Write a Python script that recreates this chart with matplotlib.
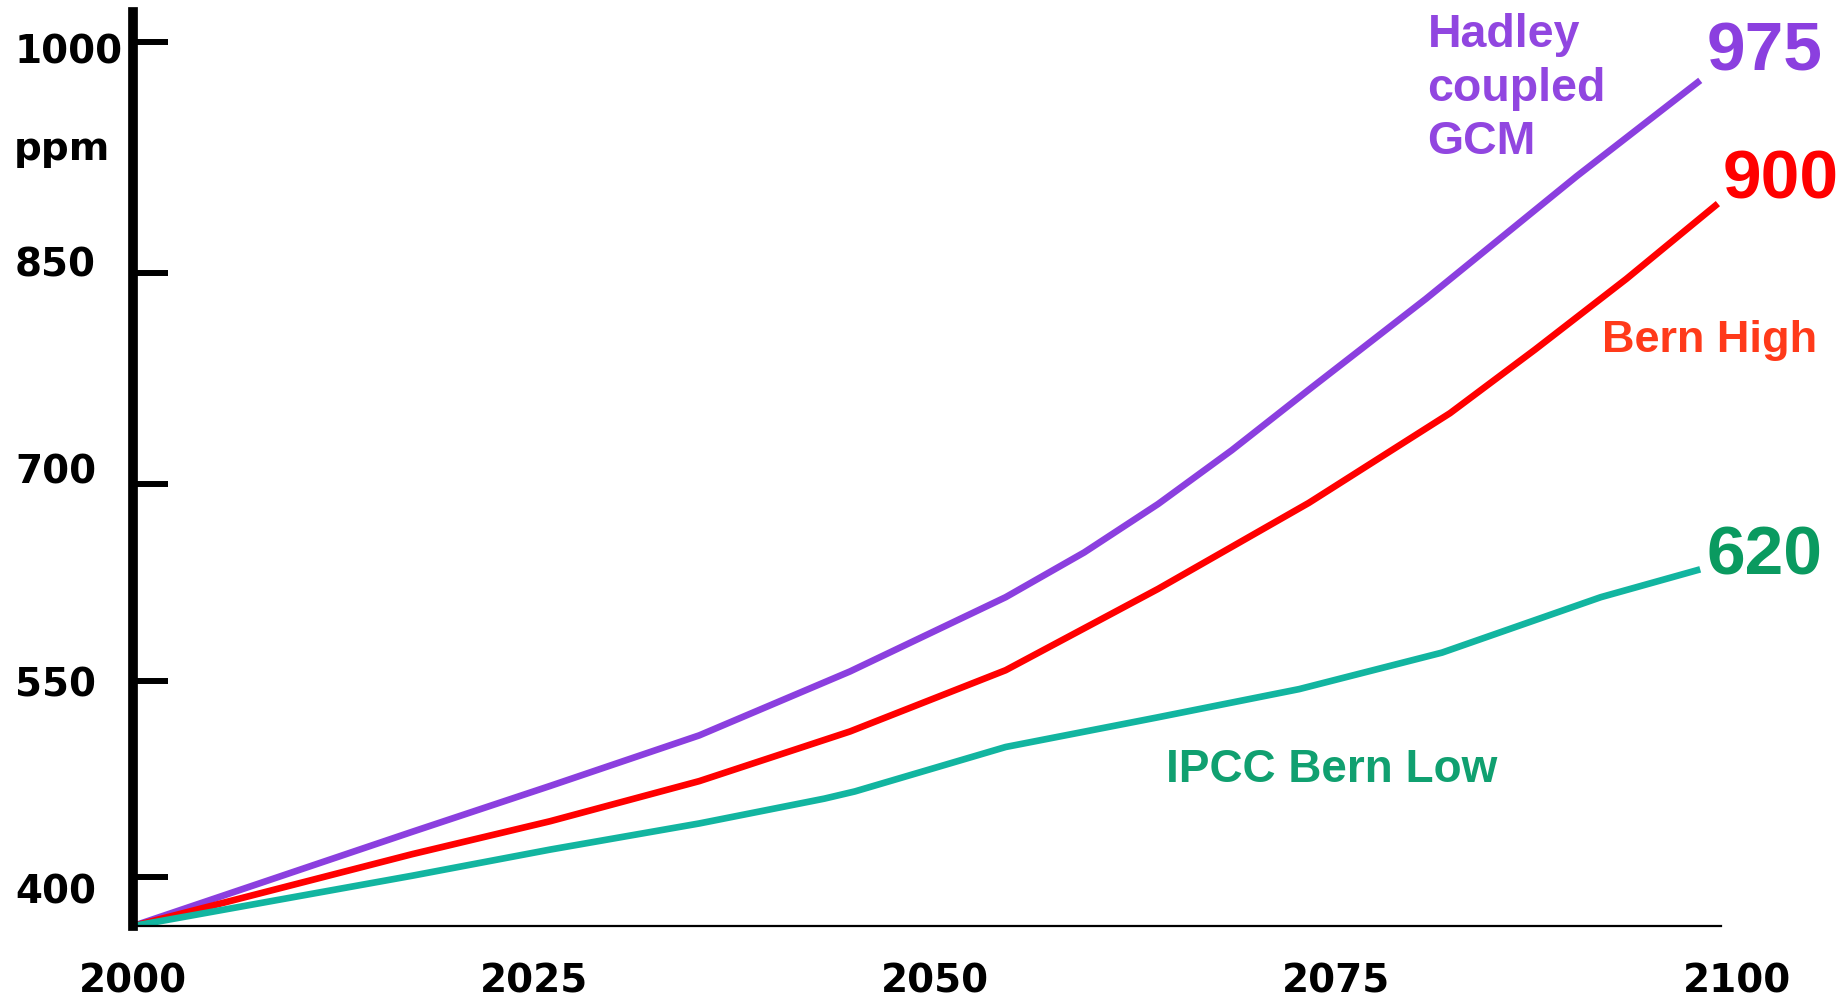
import numpy as np
import matplotlib
matplotlib.use('Agg')
import matplotlib.pyplot as plt
from matplotlib.transforms import offset_copy

# CO2 concentration projections (ppm)
hadley_years = [2000, 2017.4, 2026.0, 2035.3, 2044.7, 2054.4, 2059.3, 2063.9,
                2068.5, 2073.3, 2080.6, 2090.0, 2097.7]
hadley_ppm = [362, 434.6, 469.7, 508.4, 557.3, 613.8, 647.9, 684.7,
              724, 767, 831.6, 912.8, 975]

bern_high_years = [2000, 2017.4, 2026.0, 2035.3, 2044.7, 2054.4, 2063.9,
                   2073.3, 2082.1, 2087.4, 2093.1, 2098.8]
bern_high_ppm = [362, 417.5, 442.7, 473.4, 511.4, 558.2, 620.1,
                 685.6, 750.3, 795.5, 845.8, 895]

bern_low_years = [2000, 2017.4, 2026.0, 2035.3, 2043.1, 2045.0, 2054.4,
                  2063.8, 2072.7, 2081.6, 2091.5, 2097.7]
bern_low_ppm = [362, 401, 421, 441, 460, 465.5, 499.5,
                522, 543.8, 571.6, 613.8, 635]

x_ticks = [2000, 2025, 2050, 2075, 2100]
y_ticks = [400, 550, 700, 850, 1000]

# the original y axis is not evenly spaced - mimic it with a warped scale
warp_ppm = np.array([362, 400, 550, 700, 850, 1000, 1020], dtype=float)
warp_pos = np.array([0, 49, 245, 442, 653, 884, 914], dtype=float)


def _interp(v, src, dst):
    v = np.asarray(v, dtype=float)
    flat = np.atleast_1d(v).ravel()
    out = np.interp(flat, src, dst)
    lo = flat < src[0]
    hi = flat > src[-1]
    out[lo] = dst[0] + (flat[lo] - src[0]) * (dst[1] - dst[0]) / (src[1] - src[0])
    out[hi] = dst[-1] + (flat[hi] - src[-1]) * (dst[-1] - dst[-2]) / (src[-1] - src[-2])
    return out.reshape(v.shape)


def fwd(v):
    return _interp(v, warp_ppm, warp_pos)


def inv(v):
    return _interp(v, warp_pos, warp_ppm)


purple = '#8b3fdf'
red = '#ff0000'
teal = '#12b5a0'

fig = plt.figure(figsize=(18.48, 9.98), dpi=100)
ax = fig.add_axes([0.072, 0.0721, 0.868, 0.916])

for xs, ys, c in [(hadley_years, hadley_ppm, purple),
                  (bern_high_years, bern_high_ppm, red),
                  (bern_low_years, bern_low_ppm, teal)]:
    ax.plot(xs, ys, color=c, lw=4.8, solid_capstyle='butt',
            solid_joinstyle='round')

ax.set_yscale('function', functions=(fwd, inv))
ax.set_xlim(2000, 2100)
ax.set_ylim(362, 1020)

for s in ['top', 'right']:
    ax.spines[s].set_visible(False)
ax.spines['left'].set_linewidth(7)
ax.spines['bottom'].set_linewidth(1.6)
ax.spines['bottom'].set_bounds(2000, 2099)

ax.set_xticks(x_ticks)
ax.set_xticklabels([str(t) for t in x_ticks])
ax.set_yticks(y_ticks)
ax.set_yticklabels([str(t) for t in y_ticks])
ax.minorticks_off()

ax.tick_params(axis='x', length=0, pad=26)
ax.tick_params(axis='y', direction='in', length=25, width=4.3, pad=85)
for lab in ax.get_xticklabels() + ax.get_yticklabels():
    lab.set_fontfamily('DejaVu Sans')
    lab.set_fontweight('bold')
    lab.set_fontsize(28)
# the hand-placed labels in the original sit a little off their ticks
label_shift = [-11, -3, 8, 5, -8]   # points, for 400 ... 1000
for lab, dy in zip(ax.get_yticklabels(), label_shift):
    lab.set_horizontalalignment('left')
    lab.set_verticalalignment('center')
    lab.set_transform(offset_copy(lab.get_transform(), fig=fig, y=dy,
                                  units='points'))

fig.text(14 / 1848, 1 - 149 / 998, 'ppm', fontfamily='DejaVu Sans',
         fontweight='bold', fontsize=28, ha='left', va='center')

lab_font = dict(fontfamily='Liberation Sans', fontweight='bold')
ax.text(2080.7, 1019, 'Hadley\ncoupled\nGCM', color='#9146e0', fontsize=33.5,
        ha='left', va='top', linespacing=1.28, **lab_font)
ax.text(2098.1, 993, '975', color='#8b3fdf', fontsize=50, ha='left',
        va='center', **lab_font)
ax.text(2099.1, 910, '900', color='#ff0000', fontsize=50, ha='left',
        va='center', **lab_font)
ax.text(2091.6, 802, 'Bern High', color='#ff3a1a', fontsize=32.5, ha='left',
        va='center', **lab_font)
ax.text(2098.1, 645, '620', color='#0a9a60', fontsize=50, ha='left',
        va='center', **lab_font)
ax.text(2064.4, 482, 'IPCC Bern Low', color='#10a070', fontsize=33, ha='left',
        va='center', **lab_font)

fig.savefig('out.png', dpi=100)
